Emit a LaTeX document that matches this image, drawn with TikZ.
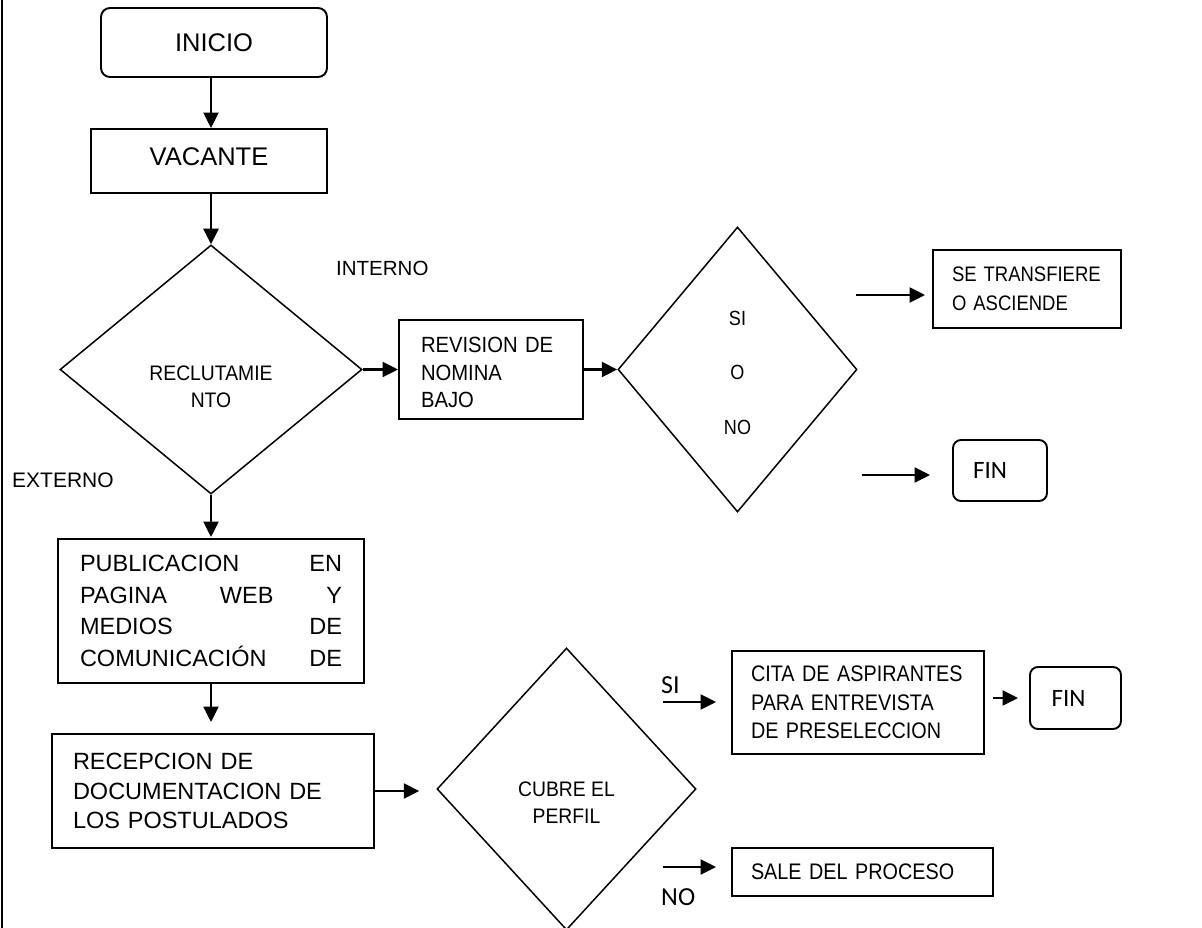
\documentclass[tikz,border=0pt]{standalone}
\usepackage{fontspec}
\setmainfont{Liberation Sans}
\newfontfamily\narrowfont[FakeStretch=0.88]{Liberation Sans}
\newfontfamily\semifont[FakeStretch=0.92]{Liberation Sans}
\newfontfamily\calib{Carlito}
\usetikzlibrary{shapes.geometric,arrows.meta}
\begin{document}
\begin{tikzpicture}[x=1pt,y=-1pt,
  box/.style={draw,line width=1.9pt,inner ysep=0pt,align=left},
  term/.style={draw,line width=1.9pt,rounded corners=9pt,inner sep=0pt},
  decision/.style={draw,diamond,line width=1.5pt,inner sep=0pt},
  dtext/.style={inner sep=0pt,align=center},
  arr/.style={line width=2.3pt,-{Triangle[length=15.5pt,width=15pt]}},
  lbl/.style={inner sep=0pt,anchor=west}]
\useasboundingbox (0,0) rectangle (1202,928);
% page rule on the left
\draw[line width=2.6pt] (2,0) -- (2,928);

% main column
\node[term,minimum width=226pt,minimum height=69pt,font=\fontsize{25.5}{30}\selectfont]
  (inicio) at (214,42.5) {INICIO};
\node[box,minimum width=236pt,minimum height=64pt,inner xsep=0pt,font=\fontsize{25.5}{30}\selectfont]
  (vacante) at (209,161) {VACANTE\rule[-8pt]{0pt}{1pt}};
\node[decision,minimum width=302pt,minimum height=249pt] (reclut) at (211,369.5) {};
\node[dtext,font=\semifont\fontsize{21}{27}\selectfont] (reclutxt) at (211,386.5) {RECLUTAMIE\\NTO};
\node[box,minimum width=306pt,minimum height=144pt,inner xsep=22pt,font=\fontsize{23.5}{31.7}\selectfont]
  (pub) at (211,611) {\makebox[262pt][l]{PUBLICACION\hfill EN}\\
  \makebox[262pt][l]{PAGINA\hfill WEB\hfill Y}\\
  \makebox[262pt][l]{MEDIOS\hfill DE}\\
  \makebox[262pt][l]{COMUNICACIÓN\hfill DE}};
\node[box,minimum width=322pt,minimum height=114pt,inner xsep=21pt,text width=280pt,font=\fontsize{23.5}{29.5}\selectfont]
  (recep) at (213,791) {RECEPCION DE\\DOCUMENTACION DE\\LOS POSTULADOS};

% internal branch
\node[box,minimum width=184pt,minimum height=99pt,inner xsep=22pt,text width=140pt,font=\semifont\fontsize{22}{27.5}\selectfont]
  (revision) at (491,369.5) {\rule{0pt}{22pt}REVISION DE\\NOMINA\\BAJO};
\node[decision,minimum width=239pt,minimum height=285pt] (sino) at (737.5,369.5) {};
\node[dtext,font=\narrowfont\fontsize{20.5}{54.5}\selectfont] (sinotxt) at (737.5,372.5) {SI\\O\\NO};
\node[box,minimum width=188pt,minimum height=78pt,inner xsep=19pt,text width=150pt,font=\narrowfont\fontsize{21}{29}\selectfont]
  (transf) at (1027,289) {\mbox{SE TRANSFIERE}\\O ASCIENDE};
\node[term,minimum width=94pt,minimum height=61pt,rounded corners=8pt,font=\calib\fontsize{25}{30}\selectfont]
  (fin1) at (1000,470.5) {\hspace*{-20pt}FIN};

% profile check
\node[decision,minimum width=259pt,minimum height=282pt] (perfil) at (566.5,789) {};
\node[dtext,font=\semifont\fontsize{21}{27}\selectfont] (perfiltxt) at (566.5,802.5) {CUBRE EL\\PERFIL};
\node[box,minimum width=252pt,minimum height=103pt,inner xsep=19pt,text width=214pt,font=\narrowfont\fontsize{22.5}{28.5}\selectfont]
  (cita) at (858,702.5) {CITA DE ASPIRANTES\\PARA ENTREVISTA\\DE PRESELECCION};
\node[term,minimum width=91pt,minimum height=62pt,rounded corners=8pt,font=\calib\fontsize{25}{30}\selectfont]
  (fin2) at (1075.5,698) {\hspace*{-14pt}FIN};
\node[box,minimum width=261pt,minimum height=48pt,inner xsep=19pt,text width=223pt,font=\narrowfont\fontsize{22.5}{24}\selectfont]
  (sale) at (862.5,872) {SALE DEL PROCESO};

% free labels
\node[lbl,font=\fontsize{20.5}{24}\selectfont] (interno) at (336,268) {INTERNO};
\node[lbl,font=\fontsize{21}{24}\selectfont] (externo) at (12,480) {EXTERNO};
\node[lbl,font=\calib\fontsize{26}{30}\selectfont] (si) at (661,685) {SI};
\node[lbl,font=\calib\fontsize{26}{30}\selectfont] (no) at (661,897) {NO};

% free arrow tails
\coordinate (t1) at (856,295);
\coordinate (t2) at (862,475);
\coordinate (t3) at (663,702);
\coordinate (t4) at (663,867);

% connectors
\draw[arr] (inicio.south -| reclut) -- (vacante.north -| reclut);
\draw[arr] (vacante.south -| reclut) -- (reclut.north);
\draw[arr] (reclut.east) -- (revision.west);
\draw[arr] (revision.east) -- (sino.west);
\draw[arr,shorten >=1pt] (reclut.south) -- (pub.north);
\draw[arr,shorten >=11pt] (pub.south) -- (pub.south |- recep.north);
\draw[arr,shorten >=17pt] (recep.east) -- (perfil.west |- recep.east);
\draw[arr,shorten >=7pt] (t1) -- (t1 -| transf.west);
\draw[arr,shorten >=22pt] (t2) -- (t2 -| fin1.west);
\draw[arr,shorten >=15pt] (t3) -- (t3 -| cita.west);
\draw[arr,shorten >=15pt] (t4) -- (t4 -| sale.west);
\draw[arr,shorten <=8pt,shorten >=11pt] (cita.east |- fin2.west) -- (fin2.west);
\end{tikzpicture}
\end{document}
